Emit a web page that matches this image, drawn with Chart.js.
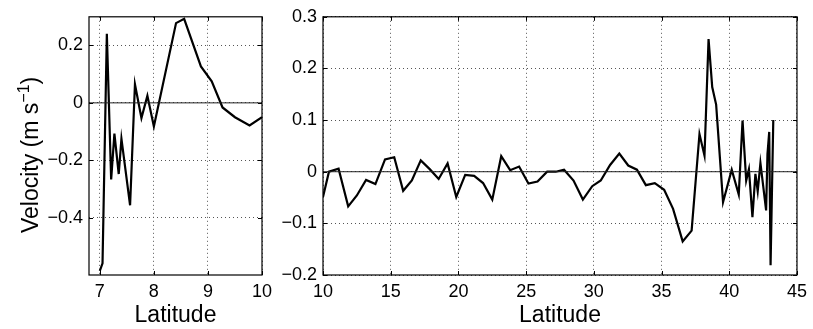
<!DOCTYPE html>
<html>
<head>
<meta charset="utf-8">
<script src="https://cdn.jsdelivr.net/npm/chart.js@4"></script>
<style>
  body { margin: 0; background: #fff; }
  #wrap { position: relative; width: 813px; height: 329px; }
  canvas { position: absolute; top: 0; }
</style>
</head>
<body>
<div id="wrap">
  <canvas id="leftChart" width="290" height="329" style="left:0"></canvas>
  <canvas id="rightChart" width="543" height="329" style="left:270px"></canvas>
</div>
<script>
// left panel (7-10 N)
const leftLat = [7.0, 7.05, 7.13, 7.21, 7.27, 7.35, 7.40, 7.56, 7.65, 7.77, 7.88, 8.0, 8.41, 8.56, 8.87, 9.07, 9.27, 9.5, 9.77, 10.0];
const leftVel = [-0.586, -0.559, 0.241, -0.267, -0.107, -0.248, -0.125, -0.357, 0.065, -0.053, 0.025, -0.082, 0.278, 0.293, 0.127, 0.075, -0.016, -0.05, -0.079, -0.05];
const leftXRange = [6.8, 10];
const leftYRange = [-0.6, 0.3];
const leftXTicks = [7, 8, 9, 10];
const leftYTicks = [-0.4, -0.2, 0, 0.2];

// right panel (10-45 N)
const rightLat = [10.0, 10.44, 11.15, 11.86, 12.5, 13.18, 13.87, 14.58, 15.26, 15.92, 16.56, 17.22, 17.88, 18.54, 19.2, 19.84, 20.5, 21.16, 21.82, 22.5, 23.16, 23.82, 24.48, 25.17, 25.84, 26.55, 27.19, 27.8, 28.5, 29.19, 29.88, 30.51, 31.2, 31.88, 32.54, 33.18, 33.84, 34.5, 35.19, 35.85, 36.56, 37.22, 37.8, 38.17, 38.47, 38.74, 39.03, 39.54, 40.18, 40.7, 40.98, 41.25, 41.45, 41.71, 41.93, 42.1, 42.3, 42.72, 42.82, 42.95, 43.05, 43.25];
const rightVel = [-0.049, 0.0, 0.006, -0.067, -0.046, -0.016, -0.024, 0.024, 0.028, -0.037, -0.017, 0.022, 0.005, -0.014, 0.016, -0.049, -0.006, -0.008, -0.022, -0.054, 0.03, 0.003, 0.01, -0.023, -0.019, 0.0, 0.0, 0.004, -0.017, -0.054, -0.028, -0.017, 0.013, 0.035, 0.012, 0.004, -0.026, -0.022, -0.035, -0.072, -0.135, -0.114, 0.073, 0.031, 0.257, 0.164, 0.13, -0.059, 0.004, -0.044, 0.099, -0.017, 0.005, -0.088, -0.004, -0.038, 0.017, -0.075, 0.034, 0.077, -0.181, 0.1];
const rightXRange = [10, 45];
const rightYRange = [-0.2, 0.3];
const rightXTicks = [10, 15, 20, 25, 30, 35, 40, 45];
const rightYTicks = [-0.2, -0.1, 0, 0.1, 0.2, 0.3];

const FONT = '"Liberation Sans", Arial, Helvetica, sans-serif';

function fmt(v) {
  if (Math.abs(v) < 1e-9) return '0';
  const s = Math.abs(v).toFixed(Number.isInteger(v) ? 0 : 1);
  return (v < 0 ? '\u2212' : '') + s;
}

// box around the plot with small inward ticks, like matlab
const framePlugin = {
  id: 'frame',
  afterDatasetsDraw(chart) {
    const { ctx, chartArea: a, scales } = chart;
    ctx.save();
    ctx.strokeStyle = '#000';
    ctx.lineWidth = 1.2;
    ctx.strokeRect(a.left, a.top, a.right - a.left, a.bottom - a.top);
    ctx.lineWidth = 1;
    ctx.beginPath();
    scales.x.ticks.forEach(t => {
      const px = Math.round(scales.x.getPixelForValue(t.value)) + 0.5;
      ctx.moveTo(px, a.bottom); ctx.lineTo(px, a.bottom - 4);
      ctx.moveTo(px, a.top); ctx.lineTo(px, a.top + 4);
    });
    scales.y.ticks.forEach(t => {
      const py = Math.round(scales.y.getPixelForValue(t.value)) + 0.5;
      ctx.moveTo(a.left, py); ctx.lineTo(a.left + 4, py);
      ctx.moveTo(a.right, py); ctx.lineTo(a.right - 4, py);
    });
    ctx.stroke();
    ctx.restore();
  }
};

// y title with a real superscript (chart.js titles are single-font)
const yTitlePlugin = {
  id: 'yTitle',
  afterDraw(chart) {
    const ctx = chart.ctx;
    const parts = [
      { text: 'Velocity (m s', size: 23, rise: 0 },
      { text: '\u22121', size: 16, rise: 9 },
      { text: ')', size: 23, rise: 0 }
    ];
    ctx.save();
    let total = 0;
    parts.forEach(p => {
      ctx.font = p.size + 'px ' + FONT;
      p.w = ctx.measureText(p.text).width;
      total += p.w;
    });
    const midY = (chart.chartArea.top + chart.chartArea.bottom) / 2 + 9;
    ctx.translate(38, midY);
    ctx.rotate(-Math.PI / 2);
    ctx.fillStyle = '#000';
    ctx.textBaseline = 'alphabetic';
    ctx.textAlign = 'left';
    let x = -total / 2;
    parts.forEach(p => {
      ctx.font = p.size + 'px ' + FONT;
      ctx.fillText(p.text, x, -p.rise);
      x += p.w;
    });
    ctx.restore();
  }
};

function makeChart(id, lat, vel, xRange, yRange, xTicks, yTicks, yAxisWidth, padRight, extraPlugins) {
  const points = lat.map((x, i) => ({ x: x, y: vel[i] }));
  const zero = xRange.map(x => ({ x: x, y: 0 }));
  const ctx = document.getElementById(id).getContext('2d');
  return new Chart(ctx, {
    type: 'scatter',
    data: {
      datasets: [
        { data: zero, showLine: true, borderColor: '#222', borderWidth: 1, pointRadius: 0 },
        { data: points, showLine: true, borderColor: '#000', borderWidth: 2.2, pointRadius: 0, tension: 0 }
      ]
    },
    options: {
      responsive: false,
      animation: false,
      devicePixelRatio: 1,
      layout: { padding: { top: 15, right: padRight, left: 0, bottom: 0 } },
      plugins: { legend: { display: false }, tooltip: { enabled: false } },
      scales: {
        x: {
          type: 'linear',
          min: xRange[0],
          max: xRange[1],
          afterBuildTicks: s => { s.ticks = xTicks.map(v => ({ value: v })); },
          afterFit: s => { s.height = 54; },
          grid: { color: '#555', lineWidth: 1, drawTicks: false },
          border: { display: false, dash: [1, 3] },
          ticks: { color: '#000', font: { family: FONT, size: 18 }, padding: 6, maxRotation: 0, callback: v => fmt(v) },
          title: { display: true, text: 'Latitude', color: '#000', font: { family: FONT, size: 23 }, padding: { top: 0, bottom: 0 } }
        },
        y: {
          type: 'linear',
          min: yRange[0],
          max: yRange[1],
          afterBuildTicks: s => { s.ticks = yTicks.map(v => ({ value: v })); },
          afterFit: s => { s.width = yAxisWidth; },
          grid: { color: '#555', lineWidth: 1, drawTicks: false },
          border: { display: false, dash: [1, 3] },
          ticks: { color: '#000', font: { family: FONT, size: 18 }, padding: 6, callback: v => fmt(v) }
        }
      }
    },
    plugins: [framePlugin].concat(extraPlugins)
  });
}

makeChart('leftChart', leftLat, leftVel, leftXRange, leftYRange, leftXTicks, leftYTicks, 89, 28, [yTitlePlugin]);
makeChart('rightChart', rightLat, rightVel, rightXRange, rightYRange, rightXTicks, rightYTicks, 53, 13, []);
</script>
</body>
</html>
